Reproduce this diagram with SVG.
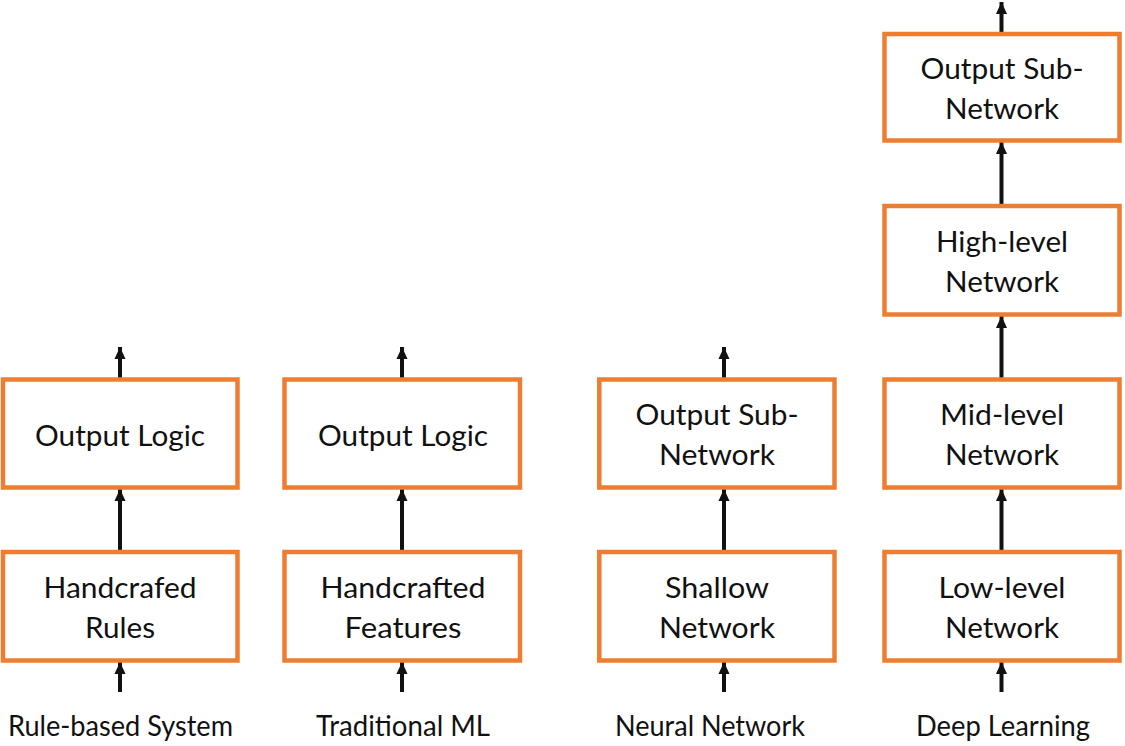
<svg xmlns="http://www.w3.org/2000/svg" width="1125" height="746" viewBox="0 0 1125 746">
<style>
.box{fill:#fff;stroke:#ED7D31;stroke-width:4.5}
.t{font-family:Lato,"Open Sans",sans-serif;font-size:29px;fill:#111;text-anchor:middle}
.a{stroke:#111;stroke-width:4;fill:none;marker-end:url(#ah)}
</style>
<defs>
<marker id="ah" markerUnits="userSpaceOnUse" markerWidth="12" markerHeight="13" refX="13" refY="6" orient="auto" viewBox="0 0 13 12">
<path d="M0,0 L13,6 L0,12 z" fill="#111"/>
</marker>
</defs>
<rect width="1125" height="746" fill="#fff"/>
<g id="connectors">
<line class="a" x1="120" y1="692" x2="120" y2="662"/>
<line class="a" x1="120" y1="551" x2="120" y2="489"/>
<line class="a" x1="120" y1="379" x2="120" y2="347"/>
<line class="a" x1="402" y1="692" x2="402" y2="662"/>
<line class="a" x1="402" y1="551" x2="402" y2="489"/>
<line class="a" x1="402" y1="379" x2="402" y2="347"/>
<line class="a" x1="724" y1="692" x2="724" y2="662"/>
<line class="a" x1="724" y1="551" x2="724" y2="489"/>
<line class="a" x1="724" y1="379" x2="724" y2="347"/>
<line class="a" x1="1001.5" y1="692" x2="1001.5" y2="662"/>
<line class="a" x1="1001.5" y1="551" x2="1001.5" y2="489"/>
<line class="a" x1="1001.5" y1="379" x2="1001.5" y2="316"/>
<line class="a" x1="1001.5" y1="206" x2="1001.5" y2="142"/>
<line class="a" x1="1001.5" y1="34" x2="1001.5" y2="2"/>
</g>
<g id="rb-output">
<rect class="box" x="3" y="379.5" width="234.5" height="108"/>
<text class="t" x="120" y="446" textLength="170" lengthAdjust="spacingAndGlyphs">Output Logic</text>
</g>
<g id="rb-rules">
<rect class="box" x="3" y="552" width="234.5" height="108.5"/>
<text class="t" x="120" y="598" textLength="153" lengthAdjust="spacingAndGlyphs">Handcrafed</text>
<text class="t" x="120" y="638" textLength="70" lengthAdjust="spacingAndGlyphs">Rules</text>
</g>
<g id="ml-output">
<rect class="box" x="284.5" y="379.5" width="235.5" height="108"/>
<text class="t" x="403" y="446" textLength="170" lengthAdjust="spacingAndGlyphs">Output Logic</text>
</g>
<g id="ml-features">
<rect class="box" x="284.5" y="552" width="235.5" height="108.5"/>
<text class="t" x="403" y="598" textLength="165" lengthAdjust="spacingAndGlyphs">Handcrafted</text>
<text class="t" x="403" y="638" textLength="117" lengthAdjust="spacingAndGlyphs">Features</text>
</g>
<g id="nn-output">
<rect class="box" x="599.3" y="379.5" width="235.2" height="108"/>
<text class="t" x="717" y="425" textLength="163" lengthAdjust="spacingAndGlyphs">Output Sub-</text>
<text class="t" x="717" y="465" textLength="116" lengthAdjust="spacingAndGlyphs">Network</text>
</g>
<g id="nn-shallow">
<rect class="box" x="599.3" y="552" width="235.2" height="108.5"/>
<text class="t" x="717" y="598" textLength="104" lengthAdjust="spacingAndGlyphs">Shallow</text>
<text class="t" x="717" y="638" textLength="116" lengthAdjust="spacingAndGlyphs">Network</text>
</g>
<g id="dl-output">
<rect class="box" x="884.5" y="34" width="235" height="106.5"/>
<text class="t" x="1002" y="79" textLength="163" lengthAdjust="spacingAndGlyphs">Output Sub-</text>
<text class="t" x="1002" y="119" textLength="114" lengthAdjust="spacingAndGlyphs">Network</text>
</g>
<g id="dl-high">
<rect class="box" x="884.5" y="206" width="235" height="108.5"/>
<text class="t" x="1002" y="252" textLength="132" lengthAdjust="spacingAndGlyphs">High-level</text>
<text class="t" x="1002" y="292" textLength="114" lengthAdjust="spacingAndGlyphs">Network</text>
</g>
<g id="dl-mid">
<rect class="box" x="884.5" y="379.5" width="235" height="108"/>
<text class="t" x="1002" y="425" textLength="124" lengthAdjust="spacingAndGlyphs">Mid-level</text>
<text class="t" x="1002" y="465" textLength="114" lengthAdjust="spacingAndGlyphs">Network</text>
</g>
<g id="dl-low">
<rect class="box" x="884.5" y="552" width="235" height="108.5"/>
<text class="t" x="1002" y="598" textLength="127" lengthAdjust="spacingAndGlyphs">Low-level</text>
<text class="t" x="1002" y="638" textLength="114" lengthAdjust="spacingAndGlyphs">Network</text>
</g>
<g id="labels">
<text class="t" x="120.5" y="736" textLength="225" lengthAdjust="spacingAndGlyphs">Rule-based System</text>
<text class="t" x="403" y="736" textLength="174" lengthAdjust="spacingAndGlyphs">Traditional ML</text>
<text class="t" x="710" y="736" textLength="190" lengthAdjust="spacingAndGlyphs">Neural Network</text>
<text class="t" x="1003" y="736" textLength="174" lengthAdjust="spacingAndGlyphs">Deep Learning</text>
</g>
</svg>
